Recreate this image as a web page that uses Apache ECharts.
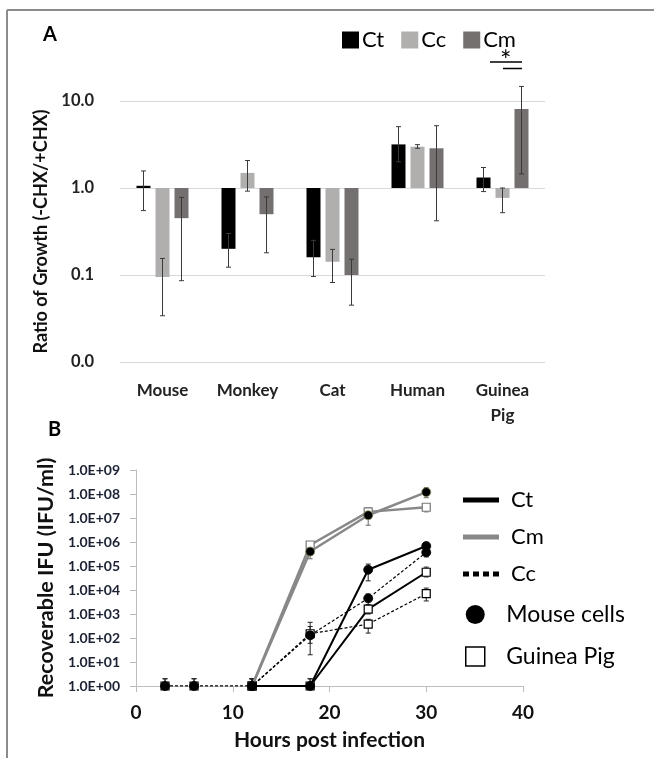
<!DOCTYPE html>
<html><head><meta charset="utf-8">
<script src="https://cdn.jsdelivr.net/npm/echarts@6/dist/echarts.min.js"></script>
<style>html,body{margin:0;padding:0;background:#fff}#c{width:654px;height:758px}</style>
</head><body><div id="c"></div>
<script>
// ---------- Panel A data ----------
const categories = ['Mouse', 'Monkey', 'Cat', 'Human', 'Guinea\nPig'];
const aTicks = ['0.0', '0.1', '1.0', '10.0'];
const ctRatio = [1.06, 0.20, 0.16, 3.17, 1.32];
const ccRatio = [0.095, 1.49, 0.142, 2.98, 0.77];
const cmRatio = [0.45, 0.50, 0.10, 2.86, 8.1];
const ctLow  = [0.55, 0.123, 0.096, 2.0, 0.91];
const ctHigh = [1.57, 0.30, 0.25, 5.07, 1.72];
const ccLow  = [0.034, 0.92, 0.082, 2.86, 0.52];
const ccHigh = [0.155, 2.07, 0.197, 3.15, 1.0];
const cmLow  = [0.086, 0.18, 0.045, 0.42, 1.45];
const cmHigh = [0.78, 0.79, 0.152, 5.2, 14.7];

// ---------- Panel B data ----------
const ctMouseX = [12, 18, 24, 30];
const ctMouseY = [1, 1, 7e4, 6.8e5];
const ctMouseLo = [1, 1, 2.4e4, 4.5e5];
const ctMouseHi = [2, 2, 1.2e5, 8.5e5];
const ctGpX = [12, 18, 24, 30];
const ctGpY = [1, 1, 1.6e3, 5.5e4];
const ctGpLo = [1, 1, 1.0e3, 3.5e4];
const ctGpHi = [2, 2, 2.2e3, 9e4];
const cmMouseX = [12, 18, 24, 30];
const cmMouseY = [1, 4e5, 1.3e7, 1.2e8];
const cmMouseLo = [1, 2e5, 5e6, 7e7];
const cmMouseHi = [2, 1e6, 2.6e7, 1.8e8];
const cmGpX = [12, 18, 24, 30];
const cmGpY = [1, 7.5e5, 1.8e7, 2.8e7];
const cmGpLo = [1, 5e5, 1e7, 1.8e7];
const cmGpHi = [2, 1e6, 2.5e7, 3.5e7];
const ccMouseX = [3, 6, 12, 18, 24, 30];
const ccMouseY = [1, 1, 1, 1.3e2, 4.5e3, 3.7e5];
const ccMouseLo = [1, 1, 1, 20, 2.5e3, 2.4e5];
const ccMouseHi = [2, 2, 2, 450, 6.8e3, 5.5e5];
const ccGpX = [3, 6, 12, 18, 24, 30];
const ccGpY = [1, 1, 1, 1.5e2, 3.8e2, 7e3];
const ccGpLo = [1, 1, 1, 60, 1.6e2, 3.5e3];
const ccGpHi = [2, 2, 2, 300, 6e2, 1.2e4];
const bXTicks = [0, 10, 20, 30, 40];

const FONT = 'Lato, "Liberation Sans", sans-serif';
const BAR_W = 14, BAR_GAP = 5;
const C_CT = '#000000', C_CC = '#b1aeae', C_CM = '#747070';

function pairs(xs, ys) { return xs.map((x, i) => [x, ys[i]]); }
function errData(xs, lo, hi) { return xs.map((x, i) => [x, lo[i], hi[i]]); }

function errRender(offset, color, cap) {
  return function (params, api) {
    const x0 = api.value(0);
    const lo = api.coord([x0, api.value(1)]);
    const hi = api.coord([x0, api.value(2)]);
    const x = lo[0] + offset;
    const st = { stroke: color, lineWidth: 1 };
    return { type: 'group', children: [
      { type: 'line', shape: { x1: x, y1: lo[1], x2: x, y2: hi[1] }, style: st },
      { type: 'line', shape: { x1: x - cap, y1: lo[1], x2: x + cap, y2: lo[1] }, style: st },
      { type: 'line', shape: { x1: x - cap, y1: hi[1], x2: x + cap, y2: hi[1] }, style: st }
    ]};
  };
}
function errSeriesA(lo, hi, idx) {
  const off = (idx - 1) * (BAR_W + BAR_GAP);
  return {
    type: 'custom', xAxisIndex: 0, yAxisIndex: 0, z: 5,
    renderItem: errRender(off, '#3a3a3a', 2.5),
    encode: { x: 0, y: [1, 2] },
    data: categories.map((c, i) => [i, lo[i], hi[i]])
  };
}
function errSeriesB(xs, lo, hi, color) {
  return {
    type: 'custom', xAxisIndex: 1, yAxisIndex: 1, z: 4,
    renderItem: errRender(0, color, 2.5),
    encode: { x: 0, y: [1, 2] },
    data: errData(xs, lo, hi)
  };
}
function lineB(name, xs, ys, lineColor, dashed, square, markerBorder) {
  return {
    type: 'line', name: name, xAxisIndex: 1, yAxisIndex: 1, z: square ? 6 : 7,
    data: pairs(xs, ys),
    symbol: square ? 'rect' : 'circle',
    symbolSize: square ? 8 : 9,
    showAllSymbol: true,
    lineStyle: { color: lineColor, width: dashed ? 1.2 : (lineColor === '#000' ? 2 : 2.5), type: dashed ? [3, 2] : 'solid' },
    itemStyle: square ? { color: '#fff', borderColor: markerBorder, borderWidth: 1.2 }
                      : { color: '#000', borderColor: markerBorder, borderWidth: 0.8 },
    emphasis: { disabled: true }
  };
}

const chart = echarts.init(document.getElementById('c'), null, { renderer: 'canvas' });
const option = {
  animation: false,
  backgroundColor: '#fff',
  textStyle: { fontFamily: FONT },
  grid: [
    { left: 120, top: 101, width: 425, height: 261 },
    { left: 136, top: 470, width: 387, height: 216 }
  ],
  legend: [
    {
      selectedMode: false, left: 337, top: 24, itemWidth: 17, itemHeight: 17, itemGap: 17,
      icon: 'rect',
      textStyle: { fontSize: 22, fontFamily: FONT, color: '#000', padding: [0, 0, 0, -2] },
      data: [
        { name: 'Ct', itemStyle: { color: C_CT } },
        { name: 'Cc', itemStyle: { color: C_CC } },
        { name: 'Cm', itemStyle: { color: C_CM } }
      ]
    },
    {
      selectedMode: false, orient: 'vertical', left: 458, top: 484, itemWidth: 36, itemHeight: 5, itemGap: 15,
      textStyle: { fontSize: 22, fontFamily: FONT, color: '#000', padding: [0, 0, 0, 7] },
      data: [
        { name: 'Ct', icon: 'path://M0,0h36v5h-36z', itemStyle: { color: '#000', borderWidth: 0 } },
        { name: 'Cm', icon: 'path://M0,0h36v5h-36z', itemStyle: { color: '#888', borderWidth: 0 } },
        { name: 'Cc', icon: 'path://M0,0h6v5h-6zM10,0h6v5h-6zM20,0h6v5h-6zM30,0h6v5h-6z', itemStyle: { color: '#000', borderWidth: 0 } }
      ]
    },
    {
      selectedMode: false, orient: 'vertical', left: 460, top: 598, itemWidth: 36, itemHeight: 19, itemGap: 19,
      textStyle: { fontSize: 23, fontFamily: FONT, color: '#000', padding: [0, 0, 0, 8] },
      data: [
        { name: 'Mouse cells', icon: 'circle', itemStyle: { color: '#000', borderWidth: 0 } },
        { name: 'Guinea Pig', icon: 'path://M0,0h16v16h-16z', itemStyle: { color: '#fff', borderColor: '#000', borderWidth: 1.5 } }
      ]
    }
  ],
  xAxis: [
    {
      type: 'category', gridIndex: 0, data: categories,
      axisLine: { show: false }, axisTick: { show: false },
      axisLabel: { margin: 16, fontSize: 17, fontWeight: 'bold', color: '#222', lineHeight: 25, fontFamily: FONT }
    },
    {
      type: 'value', gridIndex: 1, min: 0, max: 40, interval: 10,
      axisLine: { show: true, lineStyle: { color: '#bdbdbd', width: 1 } },
      axisTick: { show: true, length: 6, lineStyle: { color: '#bdbdbd' } },
      splitLine: { show: false },
      axisLabel: { margin: 17, fontSize: 19, fontWeight: 'bold', color: '#111', fontFamily: FONT,
        formatter: v => String(bXTicks[bXTicks.indexOf(v)] ?? v) },
      name: 'Hours post infection', nameLocation: 'middle', nameGap: 44,
      nameTextStyle: { fontSize: 21, fontWeight: 'bold', color: '#111', fontFamily: FONT }
    }
  ],
  yAxis: [
    {
      type: 'log', gridIndex: 0, logBase: 10, min: 0.01, max: 10, splitNumber: 3,
      axisLine: { show: false }, axisTick: { show: false },
      splitLine: { show: true, lineStyle: { color: '#d9d9d9', width: 1 } },
      axisLabel: { margin: 26, fontSize: 16.5, fontWeight: 'bold', color: '#222', fontFamily: FONT,
        formatter: v => aTicks[Math.round(Math.log10(v)) + 2] },
      name: 'Ratio of Growth (-CHX/+CHX)', nameLocation: 'middle', nameGap: 70,
      nameTextStyle: { fontSize: 18, fontWeight: 'bold', color: '#111', fontFamily: FONT }
    },
    {
      type: 'log', gridIndex: 1, logBase: 10, min: 1, max: 1e9, splitNumber: 9,
      axisLine: { show: true, lineStyle: { color: '#bdbdbd', width: 1 } },
      axisTick: { show: true, length: 6, lineStyle: { color: '#bdbdbd' } },
      splitLine: { show: false },
      axisLabel: { margin: 16, fontSize: 14, fontWeight: 'bold', color: '#1c2233', fontFamily: FONT,
        formatter: v => '1.0E+' + String(Math.round(Math.log10(v))).padStart(2, '0') },
      name: 'Recoverable IFU (IFU/ml)', nameLocation: 'middle', nameGap: 78,
      nameTextStyle: { fontSize: 21.5, fontWeight: 'bold', color: '#111', fontFamily: FONT }
    }
  ],
  series: [
    { type: 'bar', name: 'Ct', xAxisIndex: 0, yAxisIndex: 0, data: ctRatio, barWidth: BAR_W, barGap: (BAR_GAP / BAR_W * 100) + '%', itemStyle: { color: C_CT }, emphasis: { disabled: true } },
    { type: 'bar', name: 'Cc', xAxisIndex: 0, yAxisIndex: 0, data: ccRatio, barWidth: BAR_W, barGap: (BAR_GAP / BAR_W * 100) + '%', itemStyle: { color: C_CC }, emphasis: { disabled: true } },
    { type: 'bar', name: 'Cm', xAxisIndex: 0, yAxisIndex: 0, data: cmRatio, barWidth: BAR_W, barGap: (BAR_GAP / BAR_W * 100) + '%', itemStyle: { color: C_CM }, emphasis: { disabled: true } },
    errSeriesA(ctLow, ctHigh, 0),
    errSeriesA(ccLow, ccHigh, 1),
    errSeriesA(cmLow, cmHigh, 2),

    errSeriesB(cmMouseX, cmMouseLo, cmMouseHi, '#666'),
    errSeriesB(cmGpX, cmGpLo, cmGpHi, '#666'),
    errSeriesB(ctMouseX, ctMouseLo, ctMouseHi, '#222'),
    errSeriesB(ctGpX, ctGpLo, ctGpHi, '#222'),
    errSeriesB(ccMouseX, ccMouseLo, ccMouseHi, '#222'),
    errSeriesB(ccGpX, ccGpLo, ccGpHi, '#222'),
    lineB('Cm Mouse', cmMouseX, cmMouseY, '#888', false, false, '#8a8a5a'),
    lineB('Cm Guinea Pig', cmGpX, cmGpY, '#888', false, true, '#777'),
    lineB('Ct Mouse', ctMouseX, ctMouseY, '#000', false, false, '#000'),
    lineB('Ct Guinea Pig', ctGpX, ctGpY, '#000', false, true, '#000'),
    lineB('Cc Mouse', ccMouseX, ccMouseY, '#000', true, false, '#000'),
    lineB('Cc Guinea Pig', ccGpX, ccGpY, '#000', true, true, '#000'),
    { type: 'line', name: 'Mouse cells', xAxisIndex: 1, yAxisIndex: 1, data: [] },
    { type: 'line', name: 'Guinea Pig', xAxisIndex: 1, yAxisIndex: 1, data: [] }
  ],
  graphic: [
    { type: 'line', shape: { x1: 7, y1: 10, x2: 654, y2: 10 }, style: { stroke: '#8c8c8c', lineWidth: 2 } },
    { type: 'line', shape: { x1: 7, y1: 10, x2: 7, y2: 758 }, style: { stroke: '#8c8c8c', lineWidth: 2 } },
    { type: 'text', left: 43, top: 25, style: { text: 'A', font: 'bold 20px ' + FONT, fill: '#000' } },
    { type: 'text', left: 48, top: 420, style: { text: 'B', font: 'bold 20px ' + FONT, fill: '#000' } },
    { type: 'text', left: 500, top: 48, style: { text: '*', font: '27px ' + FONT, fill: '#000' } },
    { type: 'line', shape: { x1: 490, y1: 62, x2: 522, y2: 62 }, style: { stroke: '#000', lineWidth: 1.5 } },
    { type: 'line', shape: { x1: 503, y1: 68.5, x2: 522, y2: 68.5 }, style: { stroke: '#000', lineWidth: 1.5 } }
  ]
};
chart.setOption(option);
</script>
</body></html>
